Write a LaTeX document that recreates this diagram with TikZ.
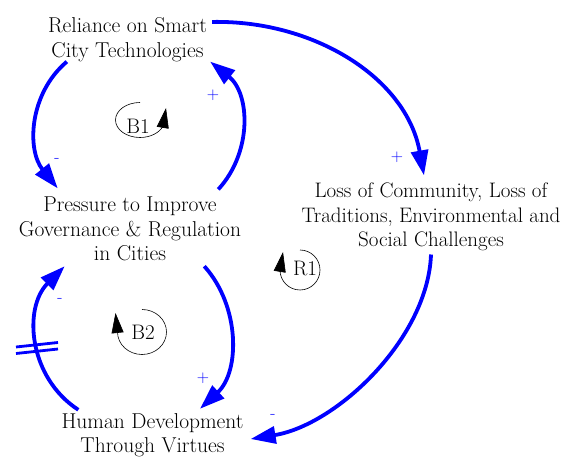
\documentclass[tikz,border=0pt]{standalone}
\usetikzlibrary{arrows.meta,calc}
\begin{document}
\begin{tikzpicture}[x=1pt,y=1pt,
  var/.style={align=center,inner sep=0pt,font=\fontsize{21.5}{24.5}\selectfont},
  link/.style={draw=blue,line width=3.8pt,-{Triangle[length=25pt,width=17pt]}},
  pol/.style={text=blue,inner sep=0pt,font=\fontsize{17}{19}\selectfont},
  looplbl/.style={inner sep=0pt,font=\fontsize{21}{24}\selectfont},
  loopmark/.style={draw=black,line width=0.6pt,-{Triangle[length=20pt,width=12pt]}},
  delaymark/.style={draw=blue,line width=2.8pt}]
\useasboundingbox (0,0) rectangle (563,-457);
\fill[white] (0,0) rectangle (563,-457);

\node[var] (rel) at (127.5,-39.5) {Reliance on Smart\\City Technologies};
\node[var] (pre) at (130,-229) {Pressure to Improve\\Governance \& Regulation\\in Cities};
\node[var,font=\fontsize{21}{24.5}\selectfont] (loss) at (431,-217) {Loss of Community, Loss of\\Traditions, Environmental and\\Social Challenges};
\node[var] (hum) at (152.5,-435.3) {Human Development\\Through Virtues};

% Reliance -> Loss
\draw[link] ($(rel.north east)+(5,-4.6)$) .. controls +(101,2) and +(-17.8,98) .. ($(loss.north)+(-7,7.4)$);
% Pressure -> Reliance
\draw[link] ($(pre.north east)+(-23,7.4)$) .. controls +(34.4,37.5) and +(39.8,-31.8) .. ($(rel.south east)+(3,0)$);
% Reliance -> Pressure
\draw[link] ($(rel.south west)+(19,0)$) .. controls +(-37.8,-32) and +(-31.1,38.6) .. ($(pre.north west)+(39,8.4)$);
% Pressure -> Human
\draw[link] ($(pre.south east)+(-37,-5)$) .. controls +(36,-40) and +(40,37) .. ($(hum.north)+(47.5,4.4)$);
% Human -> Pressure (with delay)
\draw[link] ($(hum.north west)+(17,3.4)$) .. controls +(-49.7,32.3) and +(-41.9,-41.9) .. ($(pre.south west)+(46,-5)$);
% Loss -> Human
\draw[link] ($(loss.south)+(0,-3.3)$) .. controls +(-3,-84) and +(86,14) .. ($(hum.east)+(7,-3.7)$);

% delay marks
\draw[delaymark] (16,-347) -- (58,-342.5);
\draw[delaymark] (16,-353.5) -- (58,-349);

% polarities
\node[pol] (p1) at (397,-157) {+};
\node[pol] (p2) at (213,-95) {+};
\node[pol] (p3) at (57,-160) {-};
\node[pol] (p4) at (203,-378) {+};
\node[pol] (p5) at (60,-300) {-};
\node[pol] (p6) at (273,-416) {-};

% loop markers
\node[looplbl] (b1) at (138,-126) {B1};
\draw[loopmark] (140,-102.5) arc[start angle=90,end angle=340,x radius=24.5,y radius=17.5] -- (166,-108);

\node[looplbl] (b2) at (143,-332) {B2};
\draw[loopmark] (142,-309.5) arc[start angle=90,end angle=-180,x radius=24.5,y radius=22.5] -- (115.5,-313);

\node[looplbl] (r1) at (305,-268) {R1};
\draw[loopmark] (300,-250) arc[start angle=90,end angle=-180,x radius=20,y radius=20] -- (283,-252);
\end{tikzpicture}
\end{document}
